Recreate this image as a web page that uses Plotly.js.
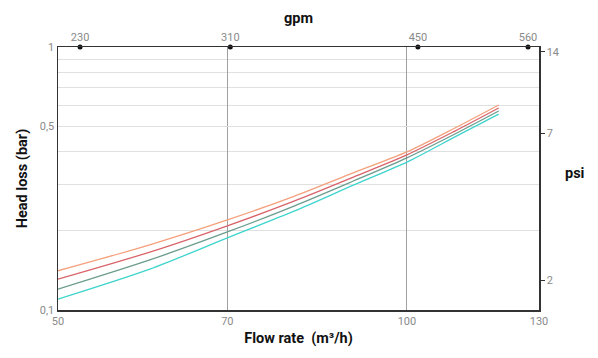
<!DOCTYPE html>
<html>
<head>
<meta charset="utf-8">
<script src="https://cdn.plot.ly/plotly-3.0.1.min.js"></script>
<style>html,body{margin:0;padding:0;background:#fff;}#chart{width:598px;height:358px;}</style>
</head>
<body>
<div id="chart"></div>
<script>
// Flow rate (m3/h)
const flowRate = [50, 60, 70, 80, 90, 100, 110, 120];
// Head loss (bar) for four curves
const curveOrange = [0.141, 0.177, 0.220, 0.271, 0.333, 0.399, 0.492, 0.602];
const curveRed    = [0.131, 0.166, 0.209, 0.260, 0.321, 0.389, 0.479, 0.586];
const curveTeal   = [0.120, 0.155, 0.198, 0.249, 0.310, 0.379, 0.467, 0.571];
const curveCyan   = [0.110, 0.143, 0.188, 0.238, 0.299, 0.365, 0.455, 0.556];

const xTicks = [50, 70, 100, 130];
const xTickText = ['50', '70', '100', '130'];
const yTicks = [0.1, 0.5, 1];
const yTickText = ['0,1', '0,5', '1'];
const yMinor = [0.2, 0.3, 0.4, 0.6, 0.7, 0.8, 0.9];
const gpmTicks = [230, 310, 450, 560];
const psiTicks = [2, 7, 14];

const tickFont = {family: 'Roboto, sans-serif', size: 11, color: '#8a8a8a'};
const titleFont = {family: 'Roboto, sans-serif', size: 14.5, color: '#111', weight: 'bold'};

const mk = (y, c) => ({x: flowRate, y: y, type: 'scatter', mode: 'lines',
  line: {color: c, width: 1.3, shape: 'spline', smoothing: 0.8}, xaxis: 'x', yaxis: 'y', hoverinfo: 'skip'});

const traces = [
  mk(curveOrange, '#f4a07c'),
  mk(curveRed, '#d8646a'),
  mk(curveTeal, '#6b9c8e'),
  mk(curveCyan, '#3ed4cd'),
  {x: gpmTicks, y: gpmTicks.map(() => 1), type: 'scatter', mode: 'markers',
   marker: {color: '#111', size: 5}, xaxis: 'x2', yaxis: 'y', cliponaxis: false, hoverinfo: 'skip'}
];

const layout = {
  width: 598, height: 358,
  margin: {l: 58, r: 59, t: 47, b: 48},
  paper_bgcolor: '#fff', plot_bgcolor: '#fff',
  showlegend: false,
  xaxis: {
    type: 'log', range: [Math.log10(50), Math.log10(130)],
    tickmode: 'array', tickvals: xTicks, ticktext: xTickText,
    tickfont: tickFont, ticks: '', showgrid: true, gridcolor: '#a0a0a0', gridwidth: 1,
    showline: true, linecolor: '#333', linewidth: 1.5, zeroline: false,
    title: {text: 'Flow rate  (m³/h)', font: titleFont, standoff: 6}
  },
  xaxis2: {
    type: 'log', overlaying: 'x', side: 'top', anchor: 'y',
    range: [Math.log10(50 * 4.4029), Math.log10(130 * 4.4029)],
    tickmode: 'array', tickvals: gpmTicks, ticktext: gpmTicks.map(String),
    tickfont: tickFont, ticks: '', showgrid: false,
    showline: true, linecolor: '#333', linewidth: 1.5, zeroline: false,
    title: {text: 'gpm', font: titleFont, standoff: 4}
  },
  yaxis: {
    type: 'log', range: [-1, 0],
    tickmode: 'array', tickvals: yTicks, ticktext: yTickText,
    tickfont: tickFont, ticks: '', showgrid: true, gridcolor: '#e0e0e0', gridwidth: 1,
    minor: {tickmode: 'array', tickvals: yMinor, showgrid: true, gridcolor: '#e0e0e0', gridwidth: 1, ticks: ''},
    showline: true, linecolor: '#333', linewidth: 1.5, zeroline: false,
    title: {text: 'Head loss (bar)', font: titleFont, standoff: 8}
  },
  yaxis2: {
    type: 'log', overlaying: 'y', side: 'right', anchor: 'x',
    range: [Math.log10(1.55), Math.log10(14.6)],
    tickmode: 'array', tickvals: psiTicks, ticktext: psiTicks.map(String),
    tickfont: tickFont, ticks: 'outside', ticklen: 4, tickcolor: '#333', tickwidth: 1,
    showgrid: false, showline: true, linecolor: '#333', linewidth: 1.5, zeroline: false
  },
  annotations: [{
    text: 'psi', xref: 'paper', yref: 'paper', x: 1.075, y: 0.52,
    xanchor: 'center', yanchor: 'middle', showarrow: false, font: titleFont
  }]
};

// invisible trace to activate yaxis2
traces.push({x: [100], y: [5], type: 'scatter', mode: 'markers', marker: {opacity: 0},
  xaxis: 'x', yaxis: 'y2', hoverinfo: 'skip'});

Plotly.newPlot('chart', traces, layout, {staticPlot: true, displayModeBar: false});
</script>
</body>
</html>
